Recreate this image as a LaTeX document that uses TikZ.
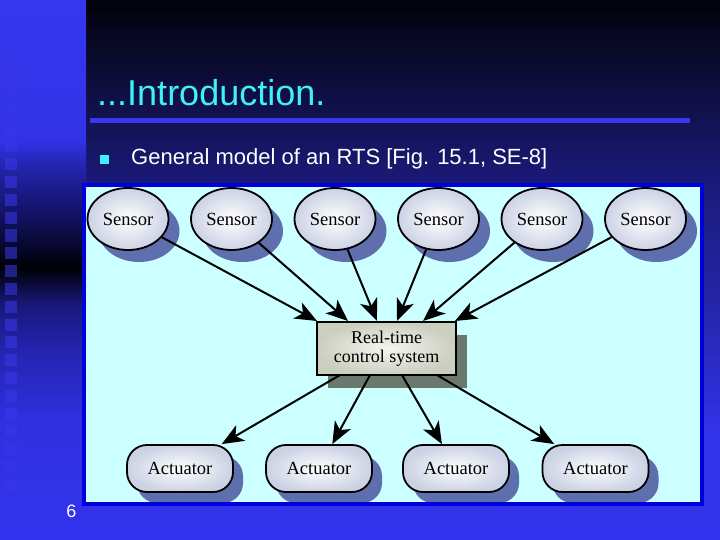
\documentclass[tikz,border=0pt]{standalone}
\usepackage{fontspec}
\setmainfont{Liberation Serif}
\newfontfamily\arialf{Liberation Sans}
\usetikzlibrary{arrows.meta,shadows,shapes.geometric}
\definecolor{mbA}{HTML}{02020A}
\definecolor{mbB}{HTML}{1A1A78}
\definecolor{mbC}{HTML}{2525A8}
\definecolor{mbD}{HTML}{3232E8}
\definecolor{mbE}{HTML}{3333EE}
\definecolor{lsA}{HTML}{3636F0}
\definecolor{lsB}{HTML}{3232E6}
\definecolor{lsC}{HTML}{2424B0}
\definecolor{lsD}{HTML}{10105A}
\definecolor{lsE}{HTML}{000006}
\definecolor{lsF}{HTML}{18187A}
\definecolor{lsG}{HTML}{2424B0}
\definecolor{lsH}{HTML}{3030E0}
\definecolor{sqcol}{HTML}{3838E8}
\definecolor{titlecol}{HTML}{3FF0F5}
\definecolor{barcol}{HTML}{3838EE}
\definecolor{panelfill}{HTML}{CCFFFF}
\definecolor{panelborder}{HTML}{0000DD}
\definecolor{sensout}{HTML}{CBD2E4}
\definecolor{sensshadow}{HTML}{5F6FAE}
\definecolor{boxin}{HTML}{F5F6F0}
\definecolor{boxout}{HTML}{CBCFBF}
\definecolor{boxshadow}{HTML}{6B796D}
\pgfdeclareverticalshading{mainbg}{100bp}{color(0bp)=(mbE); color(25bp)=(mbE); color(35.2bp)=(mbD); color(47.2bp)=(mbC); color(58.3bp)=(mbB); color(75bp)=(mbA); color(100bp)=(mbA)}
\pgfdeclareverticalshading{leftbg}{100bp}{color(0bp)=(mbE); color(25bp)=(mbE); color(36.1bp)=(lsH); color(42.6bp)=(lsG); color(46.8bp)=(lsF); color(50.2bp)=(lsE); color(54.6bp)=(lsD); color(59.7bp)=(lsC); color(62bp)=(lsB); color(75bp)=(lsA); color(100bp)=(lsA)}
\begin{document}
\begin{tikzpicture}[x=1pt,y=-1pt,
  sensor/.style={ellipse, draw=black, line width=1.8pt, minimum width=81pt, minimum height=62pt, inner sep=0pt,
    inner color=white, outer color=sensout, font=\fontsize{18.5}{20}\selectfont,
    drop shadow={shadow xshift=11pt, shadow yshift=-12pt, fill=sensshadow, opacity=1}},
  ctlbox/.style={rectangle, draw=black, line width=1.8pt, minimum width=139pt, minimum height=53pt, inner sep=0pt,
    inner color=boxin, outer color=boxout, align=center, font=\fontsize{18}{19.5}\selectfont,
    drop shadow={shadow xshift=11pt, shadow yshift=-13pt, fill=boxshadow, opacity=1}},
  actuator/.style={rectangle, rounded corners=20pt, draw=black, line width=1.8pt, minimum width=106pt, minimum height=47pt, inner sep=0pt,
    inner color=white, outer color=sensout, font=\fontsize{18.5}{20}\selectfont,
    drop shadow={shadow xshift=10pt, shadow yshift=-11pt, fill=sensshadow, opacity=1}},
  arr/.style={line width=2pt, -{Stealth[length=22pt, width=18pt, inset=6pt]}},
  txt/.style={inner sep=0pt, anchor=base west}]
\useasboundingbox (0,0) rectangle (720,540);
% backgrounds
\shade[shading=mainbg] (0,0) rectangle (720,540);
\shade[shading=leftbg] (0,0) rectangle (86,540);
\foreach \k in {0,...,24} {
  \fill[sqcol, opacity=0.55] (5,51.5+17.8*\k) rectangle (17,63.5+17.8*\k);
}
% title
\node[txt, text=titlecol, font=\arialf\fontsize{36}{40}\selectfont] (title) at (97,106) {...Introduction.};
\fill[barcol] (90,118.5) rectangle (690,123);
\fill[titlecol] (100,155) rectangle (109,164);
\node[txt, text=white, font=\arialf\fontsize{22}{26}\selectfont] (sub) at (131,165) {General model of an RTS [Fig. 15.1, SE-8]};
% panel
\fill[panelfill] (84,185.5) rectangle (702,503.5);
% nodes
\node[sensor] (s1) at (128,219) {Sensor};
\node[sensor] (s2) at (231.5,219) {Sensor};
\node[sensor] (s3) at (335,219) {Sensor};
\node[sensor] (s4) at (438.5,219) {Sensor};
\node[sensor] (s5) at (542,219) {Sensor};
\node[sensor] (s6) at (645.5,219) {Sensor};
\node[ctlbox] (ctl) at (386.5,348.5) {Real-time\\control system};
\node[actuator] (a1) at (180,468.5) {Actuator};
\node[actuator] (a2) at (319,468.5) {Actuator};
\node[actuator] (a3) at (456,468.5) {Actuator};
\node[actuator] (a4) at (595.5,468.5) {Actuator};
% connector end points on the control box
\coordinate (t1) at (317,321);
\coordinate (t2) at (348,321);
\coordinate (t3) at (377,321);
\coordinate (t4) at (397,321);
\coordinate (t5) at (423,321);
\coordinate (t6) at (455,321);
\coordinate (b1) at (340,375);
\coordinate (b2) at (370,375);
\coordinate (b3) at (402,375);
\coordinate (b4) at (437,375);
\draw[arr] (s1) -- (t1);
\draw[arr] (s2) -- (t2);
\draw[arr] (s3) -- (t3);
\draw[arr] (s4) -- (t4);
\draw[arr] (s5) -- (t5);
\draw[arr] (s6) -- (t6);
\draw[arr] (b1) -- (a1);
\draw[arr] (b2) -- (a2);
\draw[arr] (b3) -- (a3);
\draw[arr] (b4) -- (a4);
% panel border
\draw[panelborder, line width=4pt] (84,185.5) rectangle (702,503.5);
% page number
\node[inner sep=0pt, anchor=base, text=white, font=\arialf\fontsize{18}{20}\selectfont] (pg) at (71.5,517) {6};
\end{tikzpicture}
\end{document}
